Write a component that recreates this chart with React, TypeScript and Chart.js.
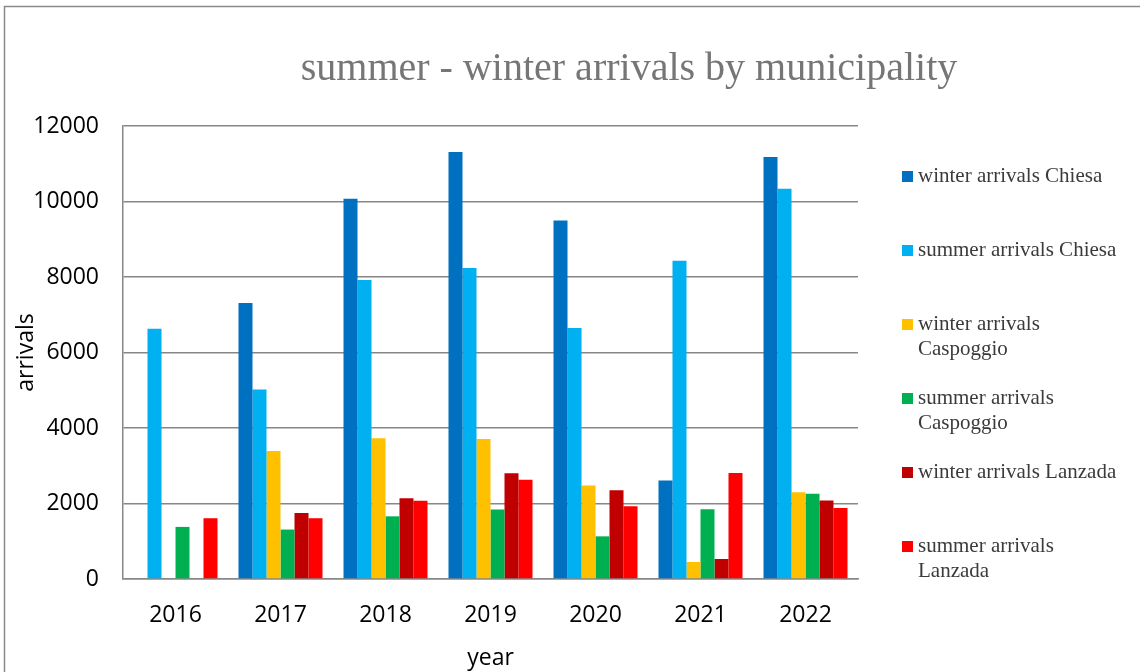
import React, { useEffect, useRef } from "react";
import { Chart, registerables } from "chart.js";

Chart.register(...registerables);

const years = ["2016", "2017", "2018", "2019", "2020", "2021", "2022"];

const winterChiesa = [null, 7310, 10070, 11310, 9500, 2610, 11180];
const summerChiesa = [6630, 5020, 7920, 8240, 6650, 8430, 10340];
const winterCaspoggio = [null, 3390, 3730, 3710, 2480, 450, 2300];
const summerCaspoggio = [1380, 1310, 1660, 1840, 1130, 1850, 2260];
const winterLanzada = [null, 1750, 2140, 2800, 2350, 530, 2080];
const summerLanzada = [1610, 1610, 2070, 2630, 1930, 2810, 1880];

const seriesLabels = [
  "winter arrivals Chiesa",
  "summer arrivals Chiesa",
  "winter arrivals Caspoggio",
  "summer arrivals Caspoggio",
  "winter arrivals Lanzada",
  "summer arrivals Lanzada",
];
const legendLines = [
  ["winter arrivals Chiesa"],
  ["summer arrivals Chiesa"],
  ["winter arrivals", "Caspoggio"],
  ["summer arrivals", "Caspoggio"],
  ["winter arrivals Lanzada"],
  ["summer arrivals", "Lanzada"],
];
const seriesColors = ["#0070C0", "#00B0F0", "#FFC000", "#00B050", "#C00000", "#FF0000"];

const titleText = "summer - winter arrivals by municipality";
const yTicks = [0, 2000, 4000, 6000, 8000, 10000, 12000];

const AXIS_FONT = "'Open Sans', sans-serif";
const SERIF = "'Liberation Serif', 'Times New Roman', serif";
const GRID = "#878787";

const decorPlugin = {
  id: "decor",
  afterDraw(chart: any) {
    const ctx = chart.ctx;
    ctx.save();
    // outer frame
    ctx.strokeStyle = "#8a8a8a";
    ctx.lineWidth = 1.5;
    ctx.beginPath();
    ctx.moveTo(4.5, 700);
    ctx.lineTo(4.5, 6.5);
    ctx.lineTo(1200, 6.5);
    ctx.stroke();
    // title
    ctx.fillStyle = "#767676";
    ctx.font = `40px ${SERIF}`;
    ctx.textAlign = "center";
    ctx.textBaseline = "alphabetic";
    ctx.fillText(titleText, 629, 80);
    // legend
    const ds = chart.data.datasets;
    ctx.font = `21px ${SERIF}`;
    ctx.textAlign = "left";
    ctx.textBaseline = "middle";
    for (let i = 0; i < ds.length; i++) {
      const y = 176.5 + 74 * i;
      ctx.fillStyle = ds[i].backgroundColor;
      ctx.fillRect(902, y - 5.5, 11, 11);
      ctx.fillStyle = "#3b3b3b";
      const lines = legendLines[i];
      for (let j = 0; j < lines.length; j++) {
        ctx.fillText(lines[j], 918, y + 25 * j);
      }
    }
    ctx.restore();
  },
};

export default function App() {
  const ref = useRef<HTMLCanvasElement | null>(null);

  useEffect(() => {
    const canvas = ref.current;
    if (!canvas) return;
    const values = [winterChiesa, summerChiesa, winterCaspoggio, summerCaspoggio, winterLanzada, summerLanzada];
    const chart = new Chart(canvas, {
      type: "bar",
      data: {
        labels: years,
        datasets: values.map((v, i) => ({
          label: seriesLabels[i],
          data: v,
          backgroundColor: seriesColors[i],
          borderWidth: 0,
          categoryPercentage: 0.8,
          barPercentage: 1.0,
        })),
      },
      options: {
        responsive: false,
        animation: false,
        devicePixelRatio: 1,
        layout: { padding: { left: 0, right: 282, top: 126, bottom: 0 } },
        plugins: {
          legend: { display: false },
          title: { display: false },
          tooltip: { enabled: false },
        },
        scales: {
          x: {
            grid: { display: false, drawTicks: false },
            border: { display: true, color: GRID, width: 1.5 },
            ticks: { color: "#000", font: { family: AXIS_FONT, size: 23 }, padding: 23 },
            title: {
              display: true,
              text: "year",
              color: "#000",
              font: { family: AXIS_FONT, size: 23 },
              padding: { top: 0, bottom: 0 },
            },
            afterFit: (s: any) => {
              s.height = 93;
            },
          },
          y: {
            min: 0,
            max: 12000,
            afterBuildTicks: (s: any) => {
              s.ticks = yTicks.map((v) => ({ value: v }));
            },
            grid: { color: GRID, lineWidth: 1.5, drawTicks: false },
            border: { display: true, color: GRID, width: 1.5 },
            ticks: {
              color: "#000",
              font: { family: AXIS_FONT, size: 23 },
              padding: 24,
              callback: (v: any) => String(v),
            },
            title: {
              display: true,
              text: "arrivals",
              color: "#000",
              font: { family: AXIS_FONT, size: 23 },
              padding: { top: 13, bottom: 0 },
            },
            afterFit: (s: any) => {
              s.width = 123;
            },
          },
        },
      },
      plugins: [decorPlugin],
    });
    return () => chart.destroy();
  }, []);

  return (
    <div style={{ position: "fixed", left: 0, top: 0, width: 1140, height: 672, background: "#fff" }}>
      <canvas ref={ref} width={1140} height={672} style={{ display: "block" }} />
    </div>
  );
}
